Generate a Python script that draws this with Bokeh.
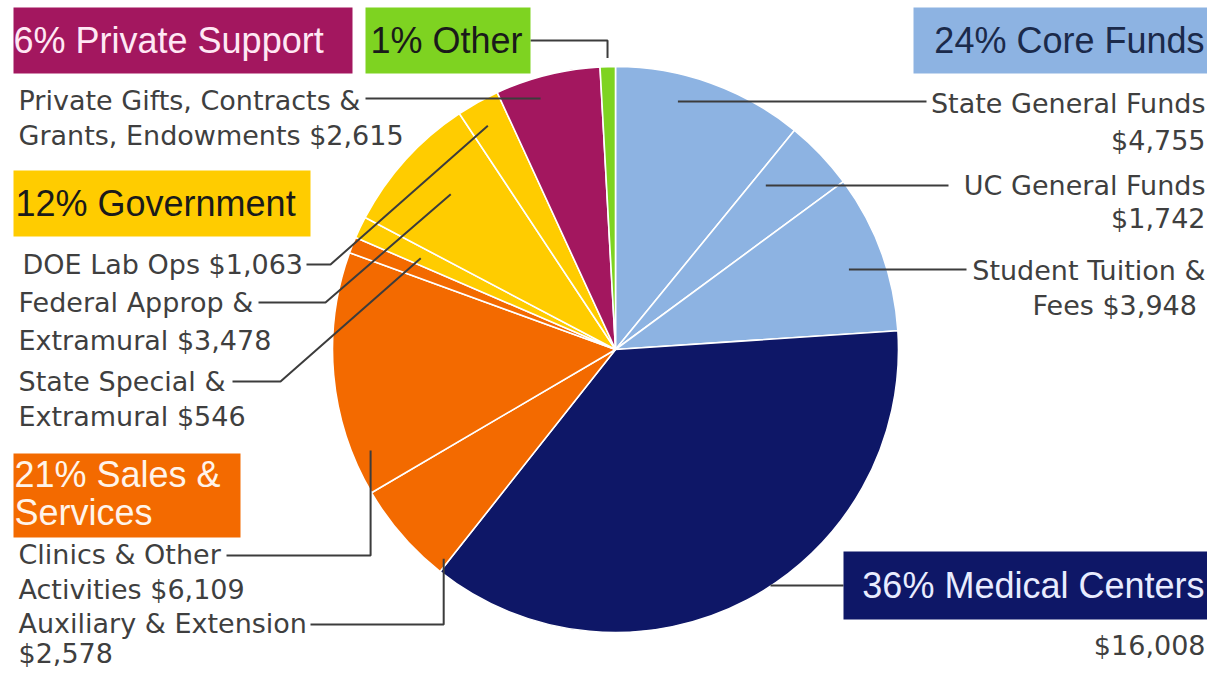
import math
from bokeh.plotting import figure
from bokeh.models import Range1d, ColumnDataSource
from bokeh.core.properties import value
from bokeh.embed import file_html
from bokeh.resources import INLINE

# ---------------- data ----------------
categories = [
    "State General Funds", "UC General Funds", "Student Tuition & Fees",
    "Medical Centers", "Auxiliary & Extension", "Clinics & Other Activities",
    "Other Sales & Services", "State Special & Extramural",
    "Federal Approp & Extramural", "DOE Lab Ops",
    "Private Gifts, Contracts & Grants, Endowments", "Other",
]
amounts = [4755, 1742, 3948, 16008, 2578, 6109, 400, 546, 3478, 1063, 2615, 380]
groups = ["core", "core", "core", "medical", "sales", "sales", "sales",
          "government", "government", "government", "private", "other"]

group_colors = {
    "core": "#8DB3E2", "medical": "#0E1767", "sales": "#F36A00",
    "government": "#FFCC00", "private": "#A3175F", "other": "#7ED321",
}
group_titles = {
    "private": ["6% Private Support"], "other": ["1% Other"],
    "core": ["24% Core Funds"], "government": ["12% Government"],
    "sales": ["21% Sales &", "Services"], "medical": ["36% Medical Centers"],
}
title_text_colors = {
    "private": "#FFE8F4", "other": "#1A1A1A", "core": "#1B2A4A",
    "government": "#1A1A1A", "sales": "#FFF4EA", "medical": "#E8ECFF",
}

# slice labels ({v} -> formatted amount)
slice_labels = {
    0: ["State General Funds", "{v}"],
    1: ["UC General Funds", "{v}"],
    2: ["Student Tuition &", "Fees  {v}"],
    3: ["{v}"],
    10: ["Private Gifts, Contracts &", "Grants, Endowments  {v}"],
    9: ["DOE Lab Ops {v}"],
    8: ["Federal Approp &", "Extramural  {v}"],
    7: ["State Special &", "Extramural {v}"],
    5: ["Clinics & Other", "Activities  {v}"],
    4: ["Auxiliary & Extension", "{v}"],
}

# ---------------- layout (pixel units, y downward) ----------------
W, H = 1207, 672
CX, CY, R = 615, 349, 283


def Y(py):
    return 688 - py


label_layout = {
    0: ("right", 1205, [103, 140]),
    1: ("right", 1205, [185, 218]),
    2: ("right", 1205, [270, 305]),
    3: ("right", 1205, [645]),
    10: ("left", 18, [100, 135]),
    9: ("left", 22, [264]),
    8: ("left", 18, [302, 340]),
    7: ("left", 18, [381, 416]),
    5: ("left", 18, [554, 589]),
    4: ("left", 18, [623, 653]),
}

title_layout = {
    "private": ((13, 352, 7, 73), "left", 13, [40]),
    "other": ((365, 530, 7, 73), "left", 370, [40]),
    "core": ((913, 1207, 7, 73), "right", 1204, [40]),
    "government": ((13, 310, 170, 236), "left", 15, [203]),
    "sales": ((13, 240, 453, 537), "left", 14, [474, 512]),
    "medical": ((843, 1207, 551, 619), "right", 1204, [585]),
}

# leader: slice index, style, fraction in slice, radius fraction, label point, elbow x
leaders = [
    (0, "h", 0.36, None, (926, 101), None),
    (1, "h", 0.227, None, (948, 185), None),
    (2, "h", 0.536, None, (966, 269), None),
    (3, "h", 0.458, None, (843, 585), None),
    (10, "h", 0.375, None, (365, 98), None),
    (11, "v", 0.5, 1.03, (530, 40), None),
    (5, "v", 0.159, 0.936, (226, 555), None),
    (4, "v", 0.05, 0.957, (310, 624), None),
    (9, "d", 0.43, 0.91, (306, 264), 330),
    (8, "d", 0.54, 0.80, (258, 302), 325),
    (7, "d", 0.40, 0.76, (232, 381), 280),
]

# ---------------- geometry from data ----------------
total = float(sum(amounts))
starts_deg, ends_deg = [], []
acc = 0.0
for a in amounts:
    starts_deg.append(acc / total * 360.0)
    acc += a
    ends_deg.append(acc / total * 360.0)

colors = [group_colors[g] for g in groups]
# clockwise-from-top degrees -> math radians (anticlockwise from +x)
wedge_src = ColumnDataSource(dict(
    x=[CX] * len(amounts), y=[Y(CY)] * len(amounts),
    start=[math.radians(90 - e) for e in ends_deg],
    end=[math.radians(90 - s) for s in starts_deg],
    color=colors, name=categories, amount=amounts,
))

p = figure(width=W, height=H, x_range=Range1d(0, W), y_range=Range1d(688 - H, 688),
           output_backend="svg", toolbar_location=None, min_border=0,
           x_axis_type=None, y_axis_type=None)
p.outline_line_color = None
p.background_fill_color = "white"
p.border_fill_color = "white"

p.wedge(x="x", y="y", radius=R, start_angle="start", end_angle="end",
        direction="anticlock", fill_color="color", line_color="white",
        line_width=1.6, source=wedge_src)

# leader lines
LINE_COLOR = "#3C3C3C"
xs, ys = [], []
for idx, style, frac, rfac, (lx, ly), ex in leaders:
    th = math.radians(starts_deg[idx] + frac * (ends_deg[idx] - starts_deg[idx]))
    if style == "h":
        ax = CX + (CY - ly) * math.tan(th)
        pts = [(ax, ly), (lx, ly)]
    elif style == "v":
        ax = CX + rfac * R * math.sin(th)
        ay = CY - rfac * R * math.cos(th)
        pts = [(ax, ay), (ax, ly), (lx, ly)]
    else:
        ax = CX + rfac * R * math.sin(th)
        ay = CY - rfac * R * math.cos(th)
        pts = [(ax, ay), (ex, ly), (lx, ly)]
    xs.append([q[0] for q in pts])
    ys.append([Y(q[1]) for q in pts])
p.multi_line(xs=xs, ys=ys, line_color=LINE_COLOR, line_width=2)

# group title boxes
for g, ((l, r, t, b), align, tx, tys) in title_layout.items():
    p.quad(left=[l], right=[r], top=[Y(t)], bottom=[Y(b)],
           fill_color=group_colors[g], line_color=None)
    lines = group_titles[g]
    p.text(x=[tx] * len(lines), y=[Y(v) for v in tys], text=lines,
           text_font=value("Liberation Sans"), text_font_size="36px",
           text_align=align, text_baseline="middle",
           text_color=title_text_colors[g])

# slice labels
for idx, (align, tx, tys) in label_layout.items():
    lines = [s.replace("{v}", "${:,}".format(amounts[idx])) for s in slice_labels[idx]]
    p.text(x=[tx] * len(lines), y=[Y(v) for v in tys], text=lines,
           text_font=value("DejaVu Sans"), text_font_size="27px",
           text_align=align, text_baseline="middle", text_color="#3F3F3F")

open("out.html", "w").write(file_html(p, INLINE))
